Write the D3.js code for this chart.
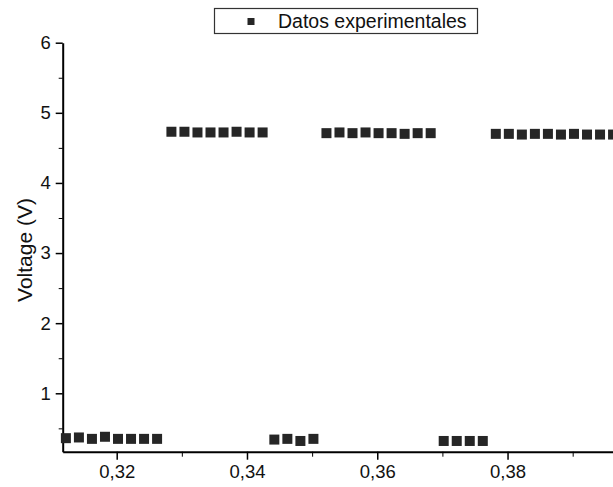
<!DOCTYPE html>
<html>
<head>
<meta charset="utf-8">
<script src="https://cdn.jsdelivr.net/npm/d3@7"></script>
<style>
  body { margin: 0; background: #fff; }
  svg { display: block; font-family: "Liberation Sans", Arial, sans-serif; }
</style>
</head>
<body>
<div id="chart"></div>
<script>
// measured points (x in arbitrary units, voltage in V)
var xLow1 = [0.3122, 0.3142, 0.3162, 0.3182, 0.3202, 0.3222, 0.3242, 0.3262];
var vLow1 = [0.36, 0.37, 0.35, 0.38, 0.35, 0.35, 0.35, 0.35];
var xHigh1 = [0.3284, 0.3304, 0.3324, 0.3344, 0.3364, 0.3384, 0.3404, 0.3424];
var vHigh1 = [4.73, 4.73, 4.72, 4.72, 4.72, 4.73, 4.72, 4.72];
var xLow2 = [0.3442, 0.3462, 0.3482, 0.3502];
var vLow2 = [0.34, 0.35, 0.32, 0.35];
var xHigh2 = [0.3522, 0.3542, 0.3562, 0.3582, 0.3602, 0.3622, 0.3642, 0.3662, 0.3682];
var vHigh2 = [4.71, 4.72, 4.71, 4.72, 4.71, 4.71, 4.70, 4.71, 4.71];
var xLow3 = [0.3702, 0.3722, 0.3742, 0.3762];
var vLow3 = [0.32, 0.32, 0.32, 0.32];
var xHigh3 = [0.3782, 0.3802, 0.3822, 0.3842, 0.3862, 0.3882, 0.3902, 0.3922, 0.3942, 0.3962];
var vHigh3 = [4.70, 4.70, 4.69, 4.70, 4.70, 4.69, 4.70, 4.69, 4.69, 4.69];

var xMajorTicks = [0.32, 0.34, 0.36, 0.38];
var xMinorTicks = [0.33, 0.35, 0.37, 0.39];
var yMajorTicks = [1, 2, 3, 4, 5, 6];
var yMinorTicks = [0.5, 1.5, 2.5, 3.5, 4.5, 5.5];

var legendLabel = "Datos experimentales";
var yLabel = "Voltage (V)";

function getPoints(){
    var groups = [[xLow1, vLow1], [xHigh1, vHigh1], [xLow2, vLow2],
                  [xHigh2, vHigh2], [xLow3, vLow3], [xHigh3, vHigh3]];
    var pts = [];
    for (var g = 0; g < groups.length; g++) {
        for (var i = 0; i < groups[g][0].length; i++) {
            pts.push({x: groups[g][0][i], v: groups[g][1][i]});
        }
    }
    return pts;
}

function drawChart(){
    var width = 613, height = 487;
    var left = 62.7, bottom = 451.7, top = 42.7;
    var marker = 10;
    var font = "Liberation Sans, Arial, sans-serif";

    var svg = d3.select("#chart").append("svg")
        .attr("width", width)
        .attr("height", height);

    // 0.32 sits at 116.7px, 0.01 ~ 65.14px
    var x = d3.scaleLinear()
        .domain([0.31171, 0.4])
        .range([left, 116.7 + 0.08 * 6514]);
    var y = d3.scaleLinear()
        .domain([0.167, 6])
        .range([bottom, top]);

    var comma = function(d) { return d3.format(".2f")(d).replace(".", ","); };

    // x axis
    svg.append("g")
        .attr("transform", "translate(0," + bottom + ")")
        .call(d3.axisBottom(x).tickValues(xMinorTicks).tickSize(5).tickFormat(""))
        .call(function(g){ g.select(".domain").remove(); });
    var xa = svg.append("g")
        .attr("transform", "translate(0," + bottom + ")")
        .call(d3.axisBottom(x).tickValues(xMajorTicks).tickSize(8).tickSizeOuter(0)
              .tickPadding(5).tickFormat(comma));
    xa.select(".domain").attr("stroke-width", 2);
    xa.selectAll(".tick line").attr("stroke-width", 1.5);
    xa.selectAll("text").attr("font-size", 18.5).attr("fill", "#111")
        .attr("font-family", font);

    // y axis
    svg.append("g")
        .attr("transform", "translate(" + left + ",0)")
        .call(d3.axisLeft(y).tickValues(yMinorTicks).tickSize(4).tickFormat(""))
        .call(function(g){ g.select(".domain").remove(); });
    var ya = svg.append("g")
        .attr("transform", "translate(" + left + ",0)")
        .call(d3.axisLeft(y).tickValues(yMajorTicks).tickSize(7).tickSizeOuter(0)
              .tickPadding(5).tickFormat(d3.format("d")));
    ya.select(".domain").attr("stroke-width", 2);
    ya.selectAll(".tick line").attr("stroke-width", 1.5);
    ya.selectAll("text").attr("font-size", 18.5).attr("fill", "#111")
        .attr("font-family", font);

    svg.append("text")
        .attr("transform", "translate(32,250) rotate(-90)")
        .attr("text-anchor", "middle")
        .attr("font-size", 21)
        .attr("fill", "#111")
        .text(yLabel);

    // points
    svg.append("g").selectAll("rect")
        .data(getPoints())
        .enter().append("rect")
        .attr("x", function(d) { return x(d.x) - marker / 2; })
        .attr("y", function(d) { return y(d.v) - marker / 2; })
        .attr("width", marker)
        .attr("height", marker)
        .attr("fill", "#262626");

    // legend
    var lg = svg.append("g");
    lg.append("rect")
        .attr("x", 214.5).attr("y", 8.5)
        .attr("width", 263).attr("height", 25)
        .attr("fill", "#fff")
        .attr("stroke", "#333")
        .attr("stroke-width", 1.2);
    lg.append("rect")
        .attr("x", 247.5).attr("y", 18)
        .attr("width", 7).attr("height", 7)
        .attr("fill", "#262626");
    lg.append("text")
        .attr("x", 278).attr("y", 28)
        .attr("font-size", 19.5)
        .attr("fill", "#111")
        .text(legendLabel);
}

drawChart();
</script>
</body>
</html>
